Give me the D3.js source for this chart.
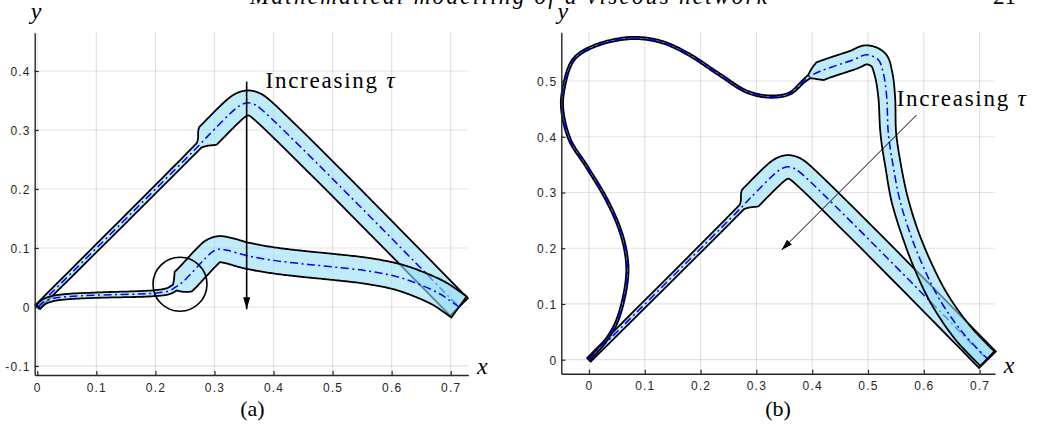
<!DOCTYPE html>
<html>
<head>
<meta charset="utf-8">
<script src="https://cdn.jsdelivr.net/npm/d3@7"></script>
<style>
body { margin: 0; background: #fff; }
.serif { font-family: "Liberation Serif", "Times New Roman", serif; fill: #000; }
</style>
</head>
<body>
<div id="chart"></div>
<script>
// ticks
var xTicks = [0, 0.1, 0.2, 0.3, 0.4, 0.5, 0.6, 0.7];
var yTicksA = [-0.1, 0, 0.1, 0.2, 0.3, 0.4];
var yTicksB = [0, 0.1, 0.2, 0.3, 0.4, 0.5];

// tubes, centre line as [x, y, half width]
var peakTube = [
  [0.000, 0.000, 0.0045], [0.274, 0.274, 0.0055], [0.289, 0.290, 0.021],
  [0.338, 0.338, 0.021], [0.348, 0.344, 0.021], [0.357, 0.346, 0.021],
  [0.366, 0.344, 0.021], [0.376, 0.338, 0.021], [0.714, 0.000, 0.021]
];
var flatTube = [
  [0.002, 0.000, 0.0045], [0.010, 0.008, 0.0045], [0.025, 0.014, 0.0045],
  [0.050, 0.0175, 0.0045], [0.100, 0.020, 0.0045], [0.200, 0.0235, 0.005],
  [0.222, 0.027, 0.0055], [0.233, 0.033, 0.006], [0.247, 0.043, 0.022],
  [0.285, 0.083, 0.022], [0.297, 0.094, 0.022], [0.308, 0.098, 0.022],
  [0.322, 0.096, 0.022], [0.355, 0.087, 0.022], [0.400, 0.079, 0.022],
  [0.450, 0.073, 0.022], [0.500, 0.068, 0.022], [0.560, 0.061, 0.022],
  [0.610, 0.051, 0.022], [0.650, 0.037, 0.022], [0.682, 0.022, 0.022],
  [0.700, 0.010, 0.022], [0.714, 0.000, 0.022]
];
var loopTube = [
  [0.000, 0.000, 0.002], [0.026, 0.029, 0.002], [0.047, 0.062, 0.002],
  [0.0615, 0.107, 0.002], [0.0687, 0.155, 0.002], [0.0663, 0.191, 0.002],
  [0.0556, 0.233, 0.002], [0.0317, 0.287, 0.002], [-0.004, 0.3465, 0.002],
  [-0.034, 0.394, 0.002], [-0.0478, 0.448, 0.002], [-0.046, 0.484, 0.002],
  [-0.028, 0.538, 0.002], [0.0077, 0.562, 0.002], [0.0735, 0.577, 0.002],
  [0.127, 0.571, 0.002], [0.175, 0.550, 0.002], [0.2348, 0.511, 0.002],
  [0.2826, 0.481, 0.002], [0.3244, 0.472, 0.002], [0.360, 0.478, 0.002],
  [0.384, 0.499, 0.0025], [0.395, 0.508, 0.0035], [0.414, 0.5175, 0.017],
  [0.4737, 0.538, 0.017], [0.4977, 0.547, 0.017], [0.5185, 0.538, 0.017],
  [0.5275, 0.514, 0.016], [0.5335, 0.472, 0.015], [0.5364, 0.4065, 0.014],
  [0.5453, 0.3465, 0.014], [0.557, 0.2867, 0.015], [0.5753, 0.227, 0.015],
  [0.599, 0.167, 0.016], [0.629, 0.107, 0.017], [0.671, 0.047, 0.018],
  [0.714, 0.002, 0.018]
];

// annotations
var circleA = [0.2416, 0.0386, 0.0457];
var arrowA = [[0.3545, 0.382], [0.3545, -0.004]];
var arrowB = [[0.587, 0.439], [0.3453, 0.197]];

var width = 1037, height = 424;
var svg = d3.select('#chart').append('svg')
  .attr('width', width).attr('height', height);

var defs = svg.append('defs');
function addHead(id, len, wid) {
  defs.append('marker').attr('id', id)
    .attr('markerUnits', 'userSpaceOnUse')
    .attr('viewBox', '0 0 ' + len + ' ' + wid)
    .attr('markerWidth', len).attr('markerHeight', wid)
    .attr('refX', len).attr('refY', wid / 2)
    .attr('orient', 'auto')
    .append('path').attr('d', 'M0,0L' + len + ',' + wid / 2 + 'L0,' + wid + 'Z').attr('fill', '#000');
}
addHead('headA', 12, 7);
addHead('headB', 11, 7);

var fmt = function(d){ return String(+d.toFixed(1)); };

// records the bezier pieces d3's catmull-rom curve emits
function recorder() {
  var cx = 0, cy = 0, segs = [];
  return {
    segs: segs,
    beginPath: function(){},
    closePath: function(){},
    moveTo: function(x, y){ cx = x; cy = y; },
    lineTo: function(x, y){
      segs.push([cx, cy, cx + (x - cx) / 3, cy + (y - cy) / 3, cx + 2 * (x - cx) / 3, cy + 2 * (y - cy) / 3, x, y]);
      cx = x; cy = y;
    },
    bezierCurveTo: function(a, b, c, d, x, y){ segs.push([cx, cy, a, b, c, d, x, y]); cx = x; cy = y; }
  };
}
function bez(s, t) {
  var u = 1 - t;
  return [u*u*u*s[0] + 3*u*u*t*s[2] + 3*u*t*t*s[4] + t*t*t*s[6],
          u*u*u*s[1] + 3*u*u*t*s[3] + 3*u*t*t*s[5] + t*t*t*s[7]];
}

function tube(pts, x, y, unit) {
  var px = pts.map(function(p){ return [x(p[0]), y(p[1])]; });
  var rec = recorder();
  d3.line().curve(d3.curveCatmullRom.alpha(0.5)).context(rec)(px);
  var left = [], right = [];
  rec.segs.forEach(function(s, i){
    var w0 = pts[i][2] * unit, w1 = pts[i + 1][2] * unit;
    for (var k = (i === 0 ? 0 : 1); k <= 20; k++) {
      var t = k / 20;
      var p = bez(s, t);
      var a = bez(s, Math.max(0, t - 0.002)), b = bez(s, Math.min(1, t + 0.002));
      var dx = b[0] - a[0], dy = b[1] - a[1], l = Math.hypot(dx, dy) || 1;
      var nx = -dy / l, ny = dx / l, w = w0 + (w1 - w0) * t;
      left.push([p[0] + nx * w, p[1] + ny * w]);
      right.push([p[0] - nx * w, p[1] - ny * w]);
    }
  });
  return { outline: left.concat(right.reverse()), centre: px };
}

var panels = [
  { xDom: [-0.0044, 0.7298], xRange: [34.7, 468.3], yDom: [-0.1153, 0.4649], yRange: [375, 32.7],
    yTicks: yTicksA, tubes: [peakTube, flatTube], name: '(a)' },
  { xDom: [-0.0496, 0.7276], xRange: [561.3, 995], yDom: [-0.0251, 0.5874], yRange: [373.7, 32.3],
    yTicks: yTicksB, tubes: [peakTube, loopTube], name: '(b)' }
];

panels.forEach(function(P, pi){
  var x = d3.scaleLinear().domain(P.xDom).range(P.xRange);
  var y = d3.scaleLinear().domain(P.yDom).range(P.yRange);
  var unit = (P.xRange[1] - P.xRange[0]) / (P.xDom[1] - P.xDom[0]);
  var g = svg.append('g');

  // grid
  g.selectAll('.vgrid').data(xTicks).enter().append('line')
    .attr('x1', x).attr('x2', x).attr('y1', P.yRange[0]).attr('y2', P.yRange[1])
    .attr('stroke', '#262626').attr('stroke-opacity', 0.13).attr('stroke-width', 1.2);
  g.selectAll('.hgrid').data(P.yTicks).enter().append('line')
    .attr('y1', y).attr('y2', y).attr('x1', P.xRange[0]).attr('x2', P.xRange[1])
    .attr('stroke', '#262626').attr('stroke-opacity', 0.13).attr('stroke-width', 1.2);

  // tubes
  P.tubes.forEach(function(T){
    var tb = tube(T, x, y, unit);
    g.append('path').attr('d', d3.line()(tb.outline) + 'Z')
      .attr('fill', 'rgb(150,222,247)').attr('fill-opacity', 0.6)
      .attr('stroke', '#000').attr('stroke-width', 1.8).attr('stroke-linejoin', 'miter');
    g.append('path').attr('d', d3.line().curve(d3.curveCatmullRom.alpha(0.5))(tb.centre))
      .attr('fill', 'none').attr('stroke', '#0000ff').attr('stroke-width', 1.5)
      .attr('stroke-dasharray', '8,3.5,2,3.5');
  });

  // annotation
  if (pi === 0) {
    g.append('circle').attr('cx', x(circleA[0])).attr('cy', y(circleA[1])).attr('r', circleA[2] * unit)
      .attr('fill', 'none').attr('stroke', '#000').attr('stroke-width', 1.6);
    g.append('line').attr('x1', x(arrowA[0][0])).attr('y1', y(arrowA[0][1]))
      .attr('x2', x(arrowA[1][0])).attr('y2', y(arrowA[1][1]))
      .attr('stroke', '#000').attr('stroke-width', 1.6).attr('marker-end', 'url(#headA)');
    var ta = g.append('text').attr('class', 'serif').attr('x', 265.5).attr('y', 87.5)
      .attr('font-size', 23).attr('textLength', 129).attr('lengthAdjust', 'spacing');
    ta.append('tspan').text('Increasing ');
    ta.append('tspan').attr('font-style', 'italic').text('τ');
  } else {
    g.append('line').attr('x1', x(arrowB[0][0])).attr('y1', y(arrowB[0][1]))
      .attr('x2', x(arrowB[1][0])).attr('y2', y(arrowB[1][1]))
      .attr('stroke', '#000').attr('stroke-width', 1).attr('marker-end', 'url(#headB)');
    var tb2 = g.append('text').attr('class', 'serif').attr('x', 896.7).attr('y', 106)
      .attr('font-size', 23).attr('textLength', 129).attr('lengthAdjust', 'spacing');
    tb2.append('tspan').text('Increasing ');
    tb2.append('tspan').attr('font-style', 'italic').text('τ');
  }

  // axes
  var ax = g.append('g').attr('transform', 'translate(0,' + P.yRange[0] + ')')
    .call(d3.axisBottom(x).tickValues(xTicks).tickSize(-4).tickSizeOuter(0).tickPadding(8).tickFormat(fmt));
  var ay = g.append('g').attr('transform', 'translate(' + P.xRange[0] + ',0)')
    .call(d3.axisLeft(y).tickValues(P.yTicks).tickSize(-4).tickSizeOuter(0).tickPadding(4).tickFormat(fmt));
  [ax, ay].forEach(function(a){
    a.attr('font-family', '"Liberation Sans", Arial, sans-serif').attr('font-size', 12);
    a.select('.domain').attr('stroke', '#262626').attr('stroke-width', 1.4);
    a.selectAll('.tick line').attr('stroke', '#262626').attr('stroke-width', 1.2);
    a.selectAll('.tick text').attr('fill', '#262626').style('letter-spacing', '1.2px');
  });
  ay.selectAll('.tick text').attr('dy', '0.36em');

  // axis names and caption
  g.append('text').attr('class', 'serif').attr('font-style', 'italic').attr('font-size', 24)
    .attr('text-anchor', 'middle').attr('x', P.xRange[0] + 1.5).attr('y', 19).text('y');
  g.append('text').attr('class', 'serif').attr('font-style', 'italic').attr('font-size', 24)
    .attr('text-anchor', 'middle').attr('x', P.xRange[1] + 14).attr('y', P.yRange[0] - 1).text('x');
  g.append('text').attr('class', 'serif').attr('font-size', 22)
    .attr('text-anchor', 'middle').attr('x', pi === 0 ? 252.5 : 778).attr('y', 416).text(P.name);
});

// running page header, cut at the top
svg.append('text').attr('class', 'serif').attr('font-style', 'italic').attr('font-size', 23)
  .attr('x', 250).attr('y', 3.5).attr('textLength', 517).attr('lengthAdjust', 'spacing')
  .text('Mathematical modelling of a viscous network');
svg.append('text').attr('class', 'serif').attr('font-size', 23)
  .attr('x', 993).attr('y', 3.5).text('21');
</script>
</body>
</html>
